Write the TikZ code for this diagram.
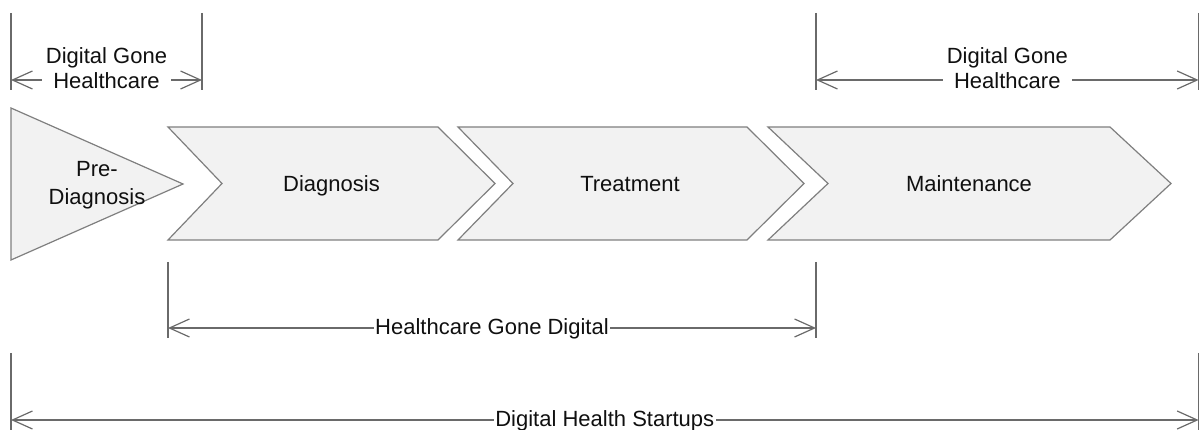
\documentclass[tikz,border=0pt]{standalone}
\usepackage{fontspec}
\setmainfont{Liberation Sans}
\usetikzlibrary{arrows.meta}
\definecolor{shapefill}{HTML}{F2F2F2}
\definecolor{shapeline}{HTML}{7F7F7F}
\definecolor{dimline}{HTML}{6A6A6A}
\definecolor{textcol}{HTML}{101010}
\begin{document}
\begin{tikzpicture}[x=1pt,y=-1pt,
  stage/.style={draw=shapeline, fill=shapefill, line width=1.2pt, line join=miter},
  lbl/.style={font=\fontsize{22}{25}\selectfont, text=textcol, align=center, inner sep=0pt},
  barb/.tip={Straight Barb[length=20pt,width=18pt]},
  dimarrow/.style={draw=dimline, line width=1.2pt, barb-barb},
  ticks/.style={draw=dimline, line width=1.2pt},
  dimlbl/.style={lbl, fill=white, inner ysep=0pt},
]
\useasboundingbox (0,0) rectangle (1200,430);

% stages
\draw[stage] (11,108) -- (183,184) -- (11,260) -- cycle;
\draw[stage] (168,127) -- (438,127) -- (495,183.5) -- (438,240) -- (168,240) -- (222,183.5) -- cycle;
\draw[stage] (458,127) -- (747,127) -- (804,183.5) -- (747,240) -- (458,240) -- (513,183.5) -- cycle;
\draw[stage] (768,127) -- (1110,127) -- (1171,183.5) -- (1110,240) -- (768,240) -- (828,183.5) -- cycle;

\node[lbl] (pre) at (97,185) {Pre-\\[3pt]Diagnosis};
\node[lbl, anchor=base] (diag) at (331.5,191.5) {Diagnosis};
\node[lbl, anchor=base] (treat) at (630,191.5) {Treatment};
\node[lbl, anchor=base] (maint) at (969,191.5) {Maintenance};

% top-left dimension
\coordinate (tlAt) at (11,13);  \coordinate (tlAb) at (11,90);
\coordinate (tlBt) at (202,13); \coordinate (tlBb) at (202,90);
\coordinate (tlA) at (11,80);   \coordinate (tlB) at (202,80);
\draw[ticks] (tlAt) -- (tlAb);
\draw[ticks] (tlBt) -- (tlBb);
\draw[dimarrow] (tlA) -- (tlB) node[midway, dimlbl, inner xsep=4pt, yshift=12pt] (dgh1) {Digital Gone\\Healthcare};

% top-right dimension
\coordinate (trAt) at (816,13);    \coordinate (trAb) at (816,90);
\coordinate (trBt) at (1198.6,13); \coordinate (trBb) at (1198.6,90);
\coordinate (trA) at (816,80);     \coordinate (trB) at (1198.6,80);
\draw[ticks] (trAt) -- (trAb);
\draw[ticks] (trBt) -- (trBb);
\draw[dimarrow] (trA) -- (trB) node[midway, dimlbl, inner xsep=4pt, yshift=12pt] (dgh2) {Digital Gone\\Healthcare};

% middle dimension
\coordinate (mAt) at (168,262); \coordinate (mAb) at (168,338);
\coordinate (mBt) at (816,262); \coordinate (mBb) at (816,338);
\coordinate (mA) at (168,328);  \coordinate (mB) at (816,328);
\draw[ticks] (mAt) -- (mAb);
\draw[ticks] (mBt) -- (mBb);
\draw[dimarrow] (mA) -- (mB) node[midway, dimlbl, inner xsep=1.5pt, yshift=-0.5pt] (hgd) {Healthcare Gone Digital};

% bottom dimension
\coordinate (bAt) at (11,353);     \coordinate (bAb) at (11,430);
\coordinate (bBt) at (1198.6,353); \coordinate (bBb) at (1198.6,430);
\coordinate (bA) at (11,420);      \coordinate (bB) at (1198.6,420);
\draw[ticks] (bAt) -- (bAb);
\draw[ticks] (bBt) -- (bBb);
\draw[dimarrow] (bA) -- (bB) node[midway, dimlbl, inner xsep=1.5pt, yshift=-0.5pt] (dhs) {Digital Health Startups};
\end{tikzpicture}
\end{document}
